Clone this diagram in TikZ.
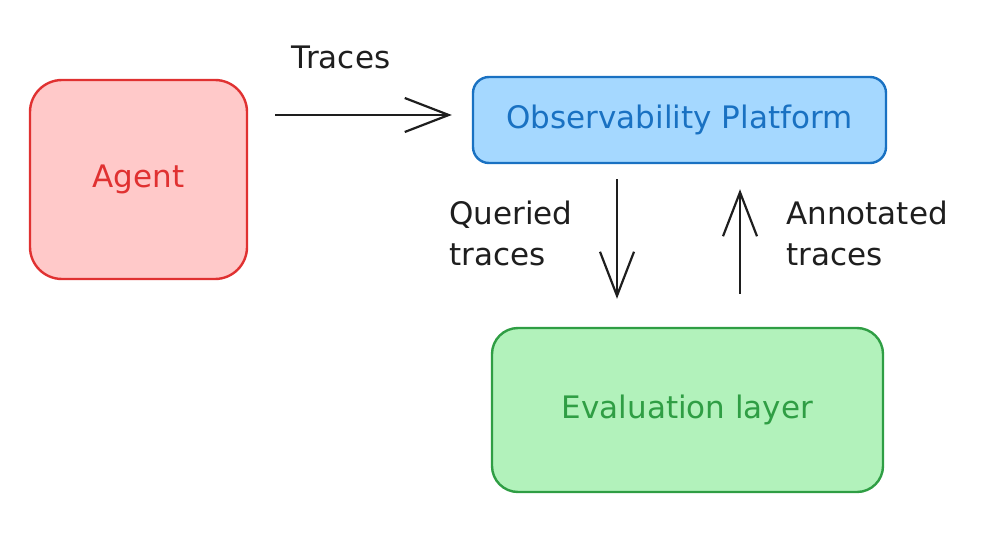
\documentclass[tikz,border=0pt]{standalone}
\usepackage{fontspec}
\setmainfont{DejaVu Sans}
\usetikzlibrary{arrows.meta}
\definecolor{ink}{HTML}{1E1E1E}
\definecolor{redfill}{HTML}{FFC9C9}
\definecolor{redline}{HTML}{E03131}
\definecolor{bluefill}{HTML}{A5D8FF}
\definecolor{blueline}{HTML}{1971C2}
\definecolor{greenfill}{HTML}{B2F2BB}
\definecolor{greenline}{HTML}{2F9E44}
\tikzset{
  box/.style={rectangle, line width=2.4pt, inner sep=0pt, font=\fontsize{31}{33}\selectfont},
  conn/.style={draw=ink, line width=2.2pt, -{Straight Barb[length=44pt,width=34pt,line width=2.2pt]}},
  lbl/.style={text=ink, font=\fontsize{31}{41}\selectfont, align=left, inner sep=0pt}
}
\begin{document}
\begin{tikzpicture}[x=1pt,y=-1pt]
\useasboundingbox (0,0) rectangle (992,540);
\node[box, draw=redline, fill=redfill, text=redline, minimum width=217pt, minimum height=199pt, rounded corners=32pt] (agent) at (138.5,179.5) {Agent};
\node[box, draw=blueline, fill=bluefill, text=blueline, minimum width=413pt, minimum height=86pt, rounded corners=16pt] (obs) at (679.5,120) {Observability Platform};
\node[box, draw=greenline, fill=greenfill, text=greenline, minimum width=391pt, minimum height=164pt, rounded corners=26pt] (eval) at (687.5,410) {Evaluation layer};
\draw[conn, shorten <=27pt, shorten >=20pt] ([yshift=5pt]agent.east |- obs.west) -- ([yshift=5pt]obs.west);
\draw[conn, shorten <=15pt, shorten >=28pt] ([xshift=-62.5pt]obs.south) -- ([xshift=-70.5pt]eval.north);
\draw[conn, shorten <=33pt, shorten >=25pt] ([xshift=52.5pt]eval.north) -- ([xshift=60.5pt]obs.south);
\node[lbl, anchor=center] (ltraces) at (341,57) {Traces};
\node[lbl, anchor=west] (lquery) at (449,233) {Queried\\traces};
\node[lbl, anchor=west] (lannot) at (786,233) {Annotated\\traces};
\end{tikzpicture}
\end{document}
